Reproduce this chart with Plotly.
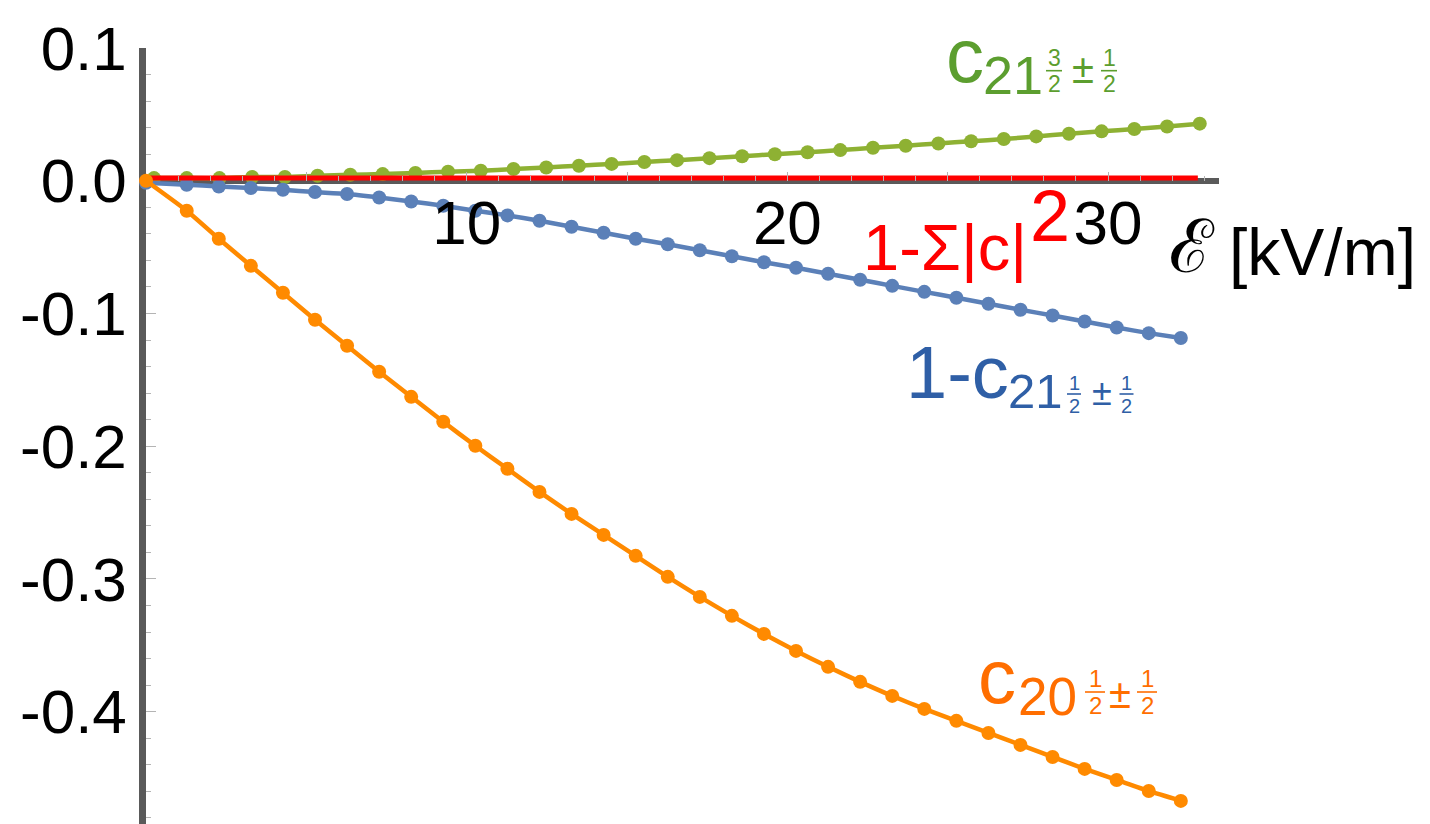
import plotly.graph_objects as go

# ---------------- data ----------------
x_main = [0, 1.27, 2.27, 3.27, 4.27, 5.27, 6.27, 7.27, 8.27, 9.27, 10.27, 11.27,
          12.27, 13.27, 14.27, 15.27, 16.27, 17.27, 18.27, 19.27, 20.27, 21.27,
          22.27, 23.27, 24.27, 25.27, 26.27, 27.27, 28.27, 29.27, 30.27, 31.27, 32.27]

c20_half = [0.0, -0.0226, -0.0437, -0.0641, -0.0844, -0.1047, -0.1243, -0.1439,
            -0.1628, -0.1816, -0.1997, -0.2170, -0.2344, -0.2510, -0.2668, -0.2826,
            -0.2984, -0.3135, -0.3278, -0.3414, -0.3542, -0.3662, -0.3775, -0.3881,
            -0.3979, -0.4069, -0.4160, -0.4250, -0.4341, -0.4431, -0.4514, -0.4597, -0.4672]

one_minus_c21_half = [-0.0015, -0.0030, -0.0043, -0.0055, -0.0068, -0.0085, -0.0100,
                      -0.0126, -0.0156, -0.0188, -0.0226, -0.0261, -0.0301, -0.0347,
                      -0.0392, -0.0437, -0.0479, -0.0524, -0.0569, -0.0614, -0.0656,
                      -0.0701, -0.0746, -0.0792, -0.0837, -0.0882, -0.0927, -0.0972,
                      -0.1015, -0.1060, -0.1106, -0.1148, -0.1185]

x_green = [0.25, 1.27, 2.29, 3.31, 4.33, 5.35, 6.37, 7.38, 8.40, 9.42, 10.44, 11.46,
           12.48, 13.50, 14.52, 15.54, 16.56, 17.57, 18.59, 19.61, 20.63, 21.65,
           22.67, 23.69, 24.71, 25.73, 26.75, 27.76, 28.78, 29.80, 30.82, 31.84, 32.86]

c21_3half = [0.0020, 0.0020, 0.0020, 0.0028, 0.0028, 0.0038, 0.0045, 0.0050, 0.0058,
             0.0068, 0.0075, 0.0088, 0.0100, 0.0113, 0.0127, 0.0141, 0.0155, 0.0170,
             0.0185, 0.0200, 0.0215, 0.0231, 0.0248, 0.0264, 0.0281, 0.0298, 0.0314,
             0.0334, 0.0354, 0.0372, 0.0390, 0.0409, 0.0430]

x_norm = [0, 32.8]
norm_defect = [0.002, 0.002]

x_ticks = [5, 10, 15, 20, 25, 30]
x_ticktext = ["", "10", "", "20", "", "30"]
y_ticks = [0.1, 0.0, -0.1, -0.2, -0.3, -0.4]
y_ticktext = ["0.1", "0.0", "-0.1", "-0.2", "-0.3", "-0.4"]

# ---------------- style ----------------
W, H = 1430, 824
OFF = 8  # page body margin
# target plot area on screen: x 146..1219, y 48..824
L, T = 146 - OFF, 48 - OFF
R = W - (1219 - OFF)
B = H - (824 - OFF)
XR = [0, 33.46]
YR = [-0.4846, 0.1]
FONT = "Liberation Sans, Arial, sans-serif"

BLUE, ORANGE, GREEN, RED = "#5b80b8", "#ff8a00", "#8eb133", "#ff0000"
BLUE_T, ORANGE_T, GREEN_T = "#2f5fa6", "#ff6e00", "#5c9e2f"
AXIS = "#5a5a5a"
TICK = "#b4b4b4"

fig = go.Figure()


def series(x, y, color):
    fig.add_trace(go.Scatter(
        x=x, y=y, mode="lines+markers",
        line=dict(color=color, width=4.5, shape="spline", smoothing=0.6),
        marker=dict(color=color, size=14),
        cliponaxis=False, hoverinfo="skip"))


series(x_green, c21_3half, GREEN)
series(x_main, one_minus_c21_half, BLUE)
fig.add_trace(go.Scatter(x=x_norm, y=norm_defect, mode="lines",
                         line=dict(color=RED, width=5), cliponaxis=False,
                         hoverinfo="skip"))
series(x_main, c20_half, ORANGE)

zero_pos = (0 - YR[0]) / (YR[1] - YR[0])

fig.update_xaxes(
    range=XR, anchor="free", position=zero_pos, showgrid=False, zeroline=False,
    showline=False, tickmode="array", tickvals=x_ticks, ticktext=x_ticktext,
    ticks="inside", ticklen=9, tickwidth=1, tickcolor=TICK,
    minor=dict(dtick=1, tick0=0, ticks="inside", ticklen=5, tickwidth=1,
               tickcolor=TICK, showgrid=False),
    tickfont=dict(family=FONT, size=62, color="black"), ticklabelstandoff=0)

fig.update_yaxes(
    range=YR, showgrid=False, zeroline=True, zerolinecolor=AXIS,
    zerolinewidth=5.5, showline=True, linecolor=AXIS, linewidth=6.5,
    tickmode="array", tickvals=y_ticks, ticktext=y_ticktext,
    ticks="inside", ticklen=10, tickwidth=1, tickcolor=TICK,
    minor=dict(dtick=0.02, tick0=0, ticks="inside", ticklen=5, tickwidth=1,
               tickcolor=TICK, showgrid=False),
    tickfont=dict(family=FONT, size=62, color="black"), layer="below traces")

# ---------------- labels (screen pixel positions -> paper) ----------------
PW, PH = W - L - R, H - T - B


def px(x):
    return (x - OFF - L) / PW


def py(y):
    return (H - B - (y - OFF)) / PH


annots = []
shapes = []


def txt(s, x, y, size, color, xanchor="center", family=FONT):
    annots.append(dict(text=s, x=px(x), y=py(y), xref="paper", yref="paper",
                       xanchor=xanchor, yanchor="middle", showarrow=False,
                       borderpad=0,
                       font=dict(family=family, size=size, color=color)))


def frac(num, den, xc, ybar, size, gap, color, half=8):
    txt(num, xc, ybar - gap, size, color)
    txt(den, xc, ybar + gap, size, color)
    shapes.append(dict(type="line", xref="paper", yref="paper",
                       x0=px(xc - half), x1=px(xc + half), y0=py(ybar), y1=py(ybar),
                       line=dict(color=color, width=1.6)))


# green: c_{21 3/2 ± 1/2}
txt("c", 965, 56, 76, GREEN_T)
txt("21", 1012.5, 74.5, 54, GREEN_T)
frac("3", "2", 1054, 70.7, 23, 13, GREEN_T)
txt("±", 1083, 69, 40, GREEN_T)
frac("1", "2", 1109, 70.7, 23, 13, GREEN_T)

# blue: 1-c_{21 1/2 ± 1/2}
txt("1-c", 905, 373, 74, BLUE_T, xanchor="left")
txt("21", 1035.5, 390.5, 49, BLUE_T)
frac("1", "2", 1074, 394, 20, 11.5, BLUE_T, half=7)
txt("±", 1101.5, 392, 36, BLUE_T)
frac("1", "2", 1126.5, 394, 20, 11.5, BLUE_T, half=7)

# orange: c_{20 1/2 ± 1/2}
txt("c", 996.5, 676.5, 76, ORANGE_T)
txt("20", 1047.5, 696, 53, ORANGE_T)
frac("1", "2", 1095, 692, 24, 13.5, ORANGE_T, half=10)
txt("±", 1120, 693.5, 40, ORANGE_T)
frac("1", "2", 1147, 692, 24, 13.5, ORANGE_T, half=10)

# red: 1-Σ|c|^2
txt("1-Σ|c|", 862, 248, 65, RED, xanchor="left")
txt("2", 1050, 216, 72, RED)

# axis label
txt("ℰ", 1192, 246, 74, "black", family="DejaVu Serif, serif")
txt("[kV/m]", 1228, 252, 66, "black", xanchor="left")

fig.update_layout(
    width=W, height=H, margin=dict(l=L, r=R, t=T, b=B, autoexpand=False),
    plot_bgcolor="white", paper_bgcolor="white", showlegend=False,
    annotations=annots, shapes=shapes)

fig.write_html("out.html")
